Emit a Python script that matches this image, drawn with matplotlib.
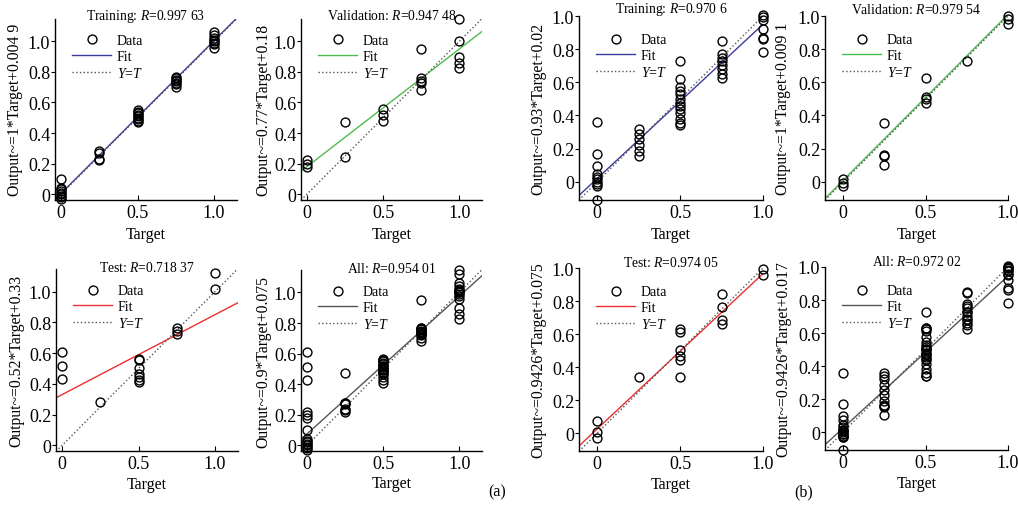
import matplotlib
matplotlib.use("Agg")
import matplotlib.pyplot as plt
import numpy as np

plt.rcParams['font.family'] = ['Liberation Serif', 'DejaVu Serif']
plt.rcParams['mathtext.fontset'] = 'custom'
plt.rcParams['mathtext.rm'] = 'Liberation Serif'
plt.rcParams['mathtext.it'] = 'Liberation Serif:italic'

# ---------------- data: panel (a) ----------------
a_train_t = [0]*9 + [0.25]*4 + [0.5]*9 + [0.75]*7 + [1.0]*8
a_train_o = [0.10, 0.04, 0.03, 0.02, 0.01, 0.0, -0.01, -0.02, -0.03,
             0.28, 0.27, 0.23, 0.22,
             0.55, 0.54, 0.53, 0.52, 0.51, 0.50, 0.49, 0.48, 0.47,
             0.77, 0.76, 0.75, 0.74, 0.73, 0.72, 0.70,
             1.06, 1.04, 1.02, 1.01, 1.0, 0.99, 0.98, 0.96]

a_val_t = [0]*3 + [0.25]*2 + [0.5]*3 + [0.75]*5 + [1.0]*5
a_val_o = [0.22, 0.20, 0.18,
           0.47, 0.24,
           0.56, 0.52, 0.48,
           0.95, 0.76, 0.74, 0.73, 0.685,
           1.15, 1.0, 0.90, 0.86, 0.825]

a_test_t = [0]*3 + [0.25] + [0.5]*7 + [0.75]*3 + [1.0]*2
a_test_o = [0.61, 0.515, 0.43,
            0.28,
            0.562, 0.558, 0.50, 0.465, 0.445, 0.427, 0.41,
            0.766, 0.742, 0.726,
            1.12, 1.017]

# ---------------- data: panel (b) ----------------
b_train_t = [0]*10 + [0.25]*6 + [0.5]*13 + [0.75]*8 + [1.0]*7
b_train_o = [0.36, 0.17, 0.095, 0.046, 0.03, 0.016, 0.0, -0.014, -0.024, -0.108,
             0.32, 0.287, 0.257, 0.223, 0.187, 0.157,
             0.73, 0.622, 0.574, 0.548, 0.528, 0.502, 0.478, 0.458, 0.438, 0.412, 0.38, 0.357, 0.341,
             0.85, 0.773, 0.749, 0.729, 0.703, 0.679, 0.649, 0.624,
             1.005, 0.996, 0.976, 0.92, 0.87, 0.86, 0.785]

b_val_t = [0]*3 + [0.25]*4 + [0.5]*4 + [0.75] + [1.0]*3
b_val_o = [0.016, -0.01, -0.028,
           0.357, 0.163, 0.153, 0.102,
           0.628, 0.514, 0.498, 0.474,
           0.729,
           1.0, 0.98, 0.95]

b_test_t = [0]*3 + [0.25] + [0.5]*6 + [0.75]*4 + [1.0]*2
b_test_o = [0.075, 0.008, -0.03,
            0.341,
            0.63, 0.61, 0.505, 0.465, 0.442, 0.341,
            0.842, 0.762, 0.687, 0.66,
            0.994, 0.96]

# fit lines (slope, intercept) as drawn
fit_a = {'train': (1.0, 0.0049), 'val': (0.77, 0.18), 'test': (0.52, 0.33), 'all': (0.9, 0.075)}
fit_b = {'train': (0.93, 0.02), 'val': (1.0, 0.0091), 'test': (0.94, 0.026), 'all': (0.92, 0.025)}

titles_a = ['Training: $R$=0.997 63', 'Validation: $R$=0.947 48', 'Test: $R$=0.718 37', 'All: $R$=0.954 01']
titles_b = ['Training: $R$=0.970 6', 'Validation: $R$=0.979 54', 'Test: $R$=0.974 05', 'All: $R$=0.972 02']
ylabels_a = ['Output~=1*Target+0.004 9', 'Output~=0.77*Target+0.18',
             'Output~=0.52*Target+0.33', 'Output~=0.9*Target+0.075']
ylabels_b = ['Output~=0.93*Target+0.02', 'Output~=1*Target+0.009 1',
             'Output~=0.9426*Target+0.075', 'Output~=0.9426*Target+0.017']

fit_colors = {'train': '#3c3ca0', 'val': '#4dbb4d', 'test': '#ec2f2f', 'all': '#555555'}

x_ticks = [0, 0.5, 1.0]
x_tick_labels = ['0', '0.5', '1.0']
y_ticks = [0, 0.2, 0.4, 0.6, 0.8, 1.0]
y_tick_labels = ['0', '0.2', '0.4', '0.6', '0.8', '1.0']

W, H = 1018, 506
fig = plt.figure(figsize=(W/100, H/100), dpi=100)

def make_ax(l, r, t, b):
    return fig.add_axes([l/W, (H-b)/H, (r-l)/W, (b-t)/H])

def panel(ax, t, o, key, fit, title, ylabel, xlim, ylim, title_y, xlab_y, ylab_x, leg_y):
    t = np.asarray(t); o = np.asarray(o)
    xs = np.array(xlim)
    s, c = fit[key]
    ax.plot(t, o, 'o', mfc='none', mec='black', ms=6.4, mew=1.0, label='Data', zorder=3, clip_on=False)
    ax.plot(xs, s*xs + c, '-', color=fit_colors[key], lw=1.0, label='Fit', zorder=2)
    ax.plot(xs, xs, ':', color='#555555', lw=1.0, label='$Y$=$T$', zorder=2)
    ax.set_xlim(*xlim); ax.set_ylim(*ylim)
    for sp in ['top', 'right']:
        ax.spines[sp].set_visible(False)
    for sp in ['left', 'bottom']:
        ax.spines[sp].set_linewidth(1.0)
    ax.set_xticks(x_ticks); ax.set_xticklabels(x_tick_labels)
    ax.set_yticks(y_ticks); ax.set_yticklabels(y_tick_labels)
    ax.tick_params(axis='x', direction='in', length=3.5, width=0.8, labelsize=13, pad=3)
    ax.tick_params(axis='y', direction='out', length=3.0, width=0.8, labelsize=13, pad=0.5)
    ax.text(0.5, title_y, title, transform=ax.transAxes, ha='center', va='center', fontsize=9.8)
    ax.set_xlabel('Target', fontsize=11.5)
    ax.xaxis.set_label_coords(0.5, xlab_y)
    ax.set_ylabel(ylabel, fontsize=11.3)
    ax.yaxis.set_label_coords(ylab_x, 0.5)
    ax.legend(loc='upper left', bbox_to_anchor=(0.095, leg_y), frameon=False, fontsize=10,
              handlelength=2.8, handletextpad=0.4, labelspacing=0.2, borderpad=0, borderaxespad=0)

xa = (-0.04, 1.15); ya = (-0.037, 1.147)
xb = (-0.11, 1.0); yb = (-0.108, 1.0)

a_all_t = a_train_t + a_val_t + a_test_t
a_all_o = a_train_o + a_val_o + a_test_o
b_all_t = b_train_t + b_val_t + b_test_t
b_all_o = b_train_o + b_val_o + b_test_o

ax = make_ax(55, 237, 20, 200.7)
panel(ax, a_train_t, a_train_o, 'train', fit_a, titles_a[0], ylabels_a[0], xa, ya, 1.02, -0.145, -0.175, 0.915)
ax = make_ax(301, 482, 20, 200.7)
panel(ax, a_val_t, a_val_o, 'val', fit_a, titles_a[1], ylabels_a[1], xa, ya, 1.02, -0.145, -0.165, 0.915)
ax = make_ax(56, 238, 270, 452)
panel(ax, a_test_t, a_test_o, 'test', fit_a, titles_a[2], ylabels_a[2], xa, ya, 1.01, -0.135, -0.175, 0.915)
ax = make_ax(301, 482, 271, 452)
panel(ax, a_all_t, a_all_o, 'all', fit_a, titles_a[3], ylabels_a[3], xa, ya, 1.01, -0.135, -0.165, 0.915)

ax = make_ax(579, 763, 17, 200.7)
panel(ax, b_train_t, b_train_o, 'train', fit_b, titles_b[0], ylabels_b[0], xb, yb, 1.04, -0.145, -0.175, 0.905)
ax = make_ax(825, 1008, 17, 200.7)
panel(ax, b_val_t, b_val_o, 'val', fit_b, titles_b[1], ylabels_b[1], xb, yb, 1.04, -0.145, -0.185, 0.905)
ax = make_ax(579, 763, 269, 452)
panel(ax, b_test_t, b_test_o, 'test', fit_b, titles_b[2], ylabels_b[2], xb, yb, 1.035, -0.135, -0.175, 0.905)
ax = make_ax(825, 1008, 268, 451)
panel(ax, b_all_t, b_all_o, 'all', fit_b, titles_b[3], ylabels_b[3], xb, yb, 1.035, -0.135, -0.185, 0.905)

fig.text(497/W, 1 - 492/H, '(a)', ha='center', va='center', fontsize=11.5)
fig.text(804/W, 1 - 492/H, '(b)', ha='center', va='center', fontsize=11.5)

fig.savefig('out.png', dpi=100)
